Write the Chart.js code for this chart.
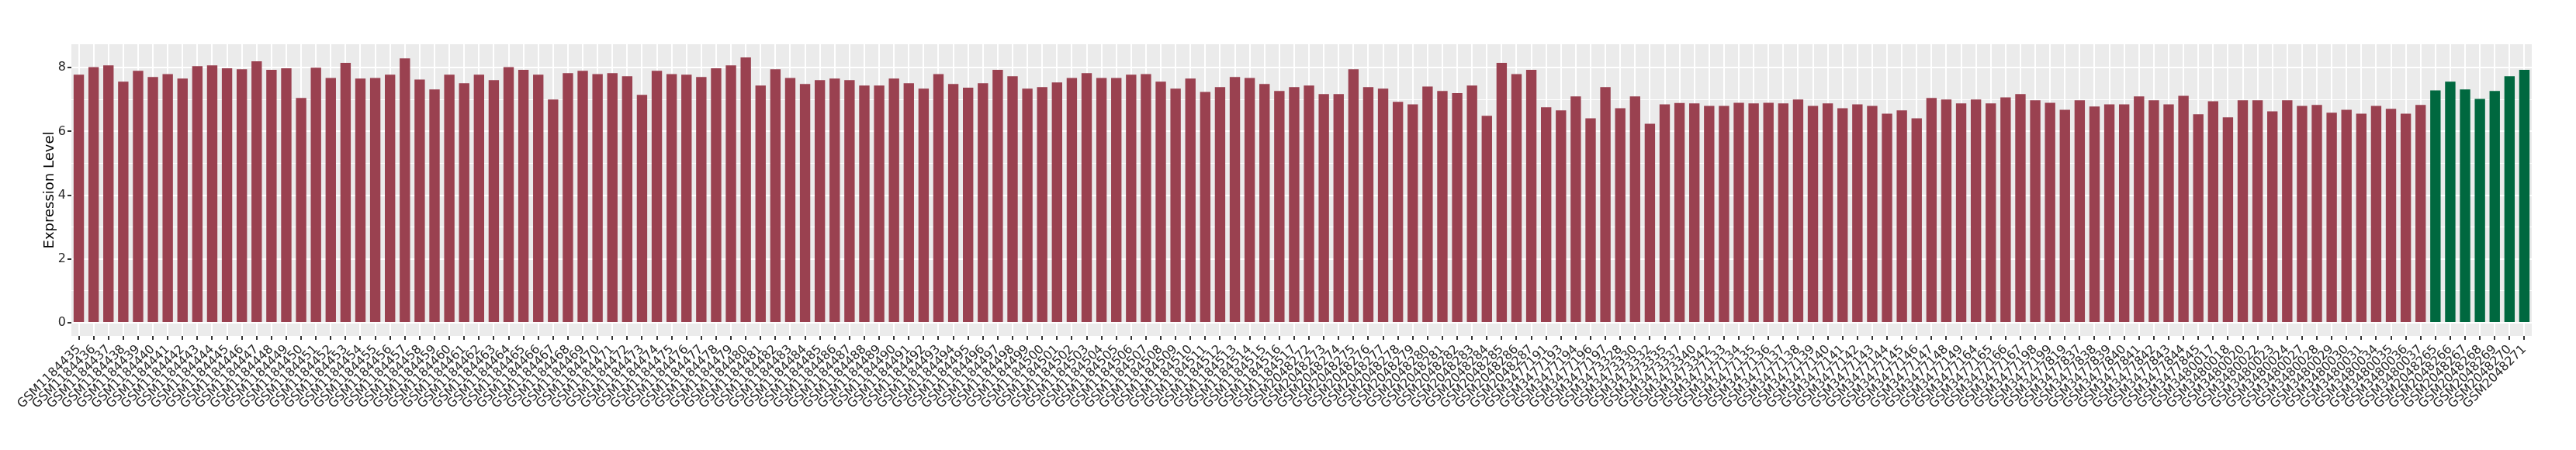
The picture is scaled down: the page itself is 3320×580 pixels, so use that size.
<!DOCTYPE html>
<html>
<head>
<meta charset="utf-8">
<script src="https://cdn.jsdelivr.net/npm/chart.js@4"></script>
<style>
  body { margin: 0; background: #fff; }
</style>
</head>
<body>
<canvas id="myChart" width="3320" height="580"></canvas>
<script>
(() => {
  'use strict'

  // sample names, in the order they appear along the x axis
  const tumorLabelsA = [
    'GSM1184435', 'GSM1184436', 'GSM1184437', 'GSM1184438', 'GSM1184439', 'GSM1184440', 'GSM1184441', 'GSM1184442',
    'GSM1184443', 'GSM1184444', 'GSM1184445', 'GSM1184446', 'GSM1184447', 'GSM1184448', 'GSM1184449', 'GSM1184450',
    'GSM1184451', 'GSM1184452', 'GSM1184453', 'GSM1184454', 'GSM1184455', 'GSM1184456', 'GSM1184457', 'GSM1184458',
    'GSM1184459', 'GSM1184460', 'GSM1184461', 'GSM1184462', 'GSM1184463', 'GSM1184464', 'GSM1184465', 'GSM1184466',
    'GSM1184467', 'GSM1184468', 'GSM1184469', 'GSM1184470', 'GSM1184471', 'GSM1184472', 'GSM1184473', 'GSM1184474',
    'GSM1184475', 'GSM1184476', 'GSM1184477', 'GSM1184478', 'GSM1184479', 'GSM1184480', 'GSM1184481', 'GSM1184482',
    'GSM1184483', 'GSM1184484', 'GSM1184485', 'GSM1184486', 'GSM1184487', 'GSM1184488', 'GSM1184489', 'GSM1184490',
    'GSM1184491', 'GSM1184492', 'GSM1184493', 'GSM1184494', 'GSM1184495', 'GSM1184496', 'GSM1184497', 'GSM1184498',
    'GSM1184499', 'GSM1184500', 'GSM1184501', 'GSM1184502', 'GSM1184503', 'GSM1184504', 'GSM1184505', 'GSM1184506',
    'GSM1184507', 'GSM1184508', 'GSM1184509', 'GSM1184510', 'GSM1184511', 'GSM1184512', 'GSM1184513', 'GSM1184514',
    'GSM1184515', 'GSM1184516', 'GSM1184517'
  ];
  const tumorLabelsB = [
    'GSM2048272', 'GSM2048273', 'GSM2048274', 'GSM2048275', 'GSM2048276', 'GSM2048277', 'GSM2048278', 'GSM2048279',
    'GSM2048280', 'GSM2048281', 'GSM2048282', 'GSM2048283', 'GSM2048284', 'GSM2048285', 'GSM2048286', 'GSM2048287'
  ];
  const tumorLabelsC = [
    'GSM3477191', 'GSM3477193', 'GSM3477194', 'GSM3477196', 'GSM3477197', 'GSM3473328', 'GSM3473330', 'GSM3473332',
    'GSM3473335', 'GSM3473337', 'GSM3473340', 'GSM3473342', 'GSM3477133', 'GSM3477134', 'GSM3477135', 'GSM3477136',
    'GSM3477137', 'GSM3477138', 'GSM3477139', 'GSM3477140', 'GSM3477141', 'GSM3477142', 'GSM3477143', 'GSM3477144',
    'GSM3477145', 'GSM3477146', 'GSM3477147', 'GSM3477148', 'GSM3477149', 'GSM3477164', 'GSM3477165', 'GSM3477166',
    'GSM3477167', 'GSM3477198', 'GSM3477199', 'GSM3477819', 'GSM3477837', 'GSM3477838', 'GSM3477839', 'GSM3477840',
    'GSM3477841', 'GSM3477842', 'GSM3477843', 'GSM3477844', 'GSM3477845', 'GSM3480017', 'GSM3480018', 'GSM3480020',
    'GSM3480022', 'GSM3480023', 'GSM3480024', 'GSM3480027', 'GSM3480028', 'GSM3480029', 'GSM3480030', 'GSM3480031',
    'GSM3480034', 'GSM3480035', 'GSM3480036', 'GSM3480037'
  ];
  const normalLabels = [
    'GSM2048265', 'GSM2048266', 'GSM2048267', 'GSM2048268', 'GSM2048269', 'GSM2048270', 'GSM2048271'
  ];

  // expression values
  const tumorValues = [
    7.78, 8.02, 8.07, 7.56, 7.90, 7.71, 7.80, 7.66, 8.05, 8.07,
    7.98, 7.95, 8.20, 7.93, 7.98, 7.05, 8.00, 7.68, 8.15, 7.66,
    7.68, 7.78, 8.29, 7.63, 7.32, 7.78, 7.51, 7.78, 7.61, 8.02,
    7.93, 7.78, 7.00, 7.83, 7.90, 7.80, 7.83, 7.73, 7.15, 7.90,
    7.80, 7.78, 7.71, 7.98, 8.07, 8.32, 7.44, 7.95, 7.68, 7.49,
    7.61, 7.66, 7.61, 7.44, 7.44,
    7.66, 7.51, 7.34, 7.80, 7.49, 7.37, 7.51, 7.93, 7.73, 7.34,
    7.39, 7.54, 7.68, 7.83, 7.68, 7.68, 7.78, 7.80, 7.56, 7.34,
    7.66, 7.24, 7.39, 7.71, 7.68, 7.49, 7.27, 7.39, 7.44, 7.17,
    7.17, 7.95, 7.39, 7.34, 6.93, 6.85, 7.41, 7.27, 7.20, 7.44,
    6.49, 8.15, 7.80, 7.93, 6.76, 6.66, 7.10, 6.41, 7.39, 6.73,
    7.10, 6.24, 6.85, 6.89, 6.88,
    6.80, 6.80, 6.90, 6.88, 6.90, 6.88, 7.00, 6.80, 6.88, 6.73,
    6.85, 6.80, 6.56, 6.66, 6.41, 7.05, 7.00, 6.88, 7.00, 6.88,
    7.07, 7.17, 6.98, 6.90, 6.68, 6.98, 6.78, 6.85, 6.85, 7.10,
    6.98, 6.85, 7.12, 6.54, 6.95, 6.44, 6.98, 6.98, 6.63, 6.98,
    6.80, 6.83, 6.59, 6.68, 6.56, 6.80, 6.71, 6.56, 6.83
  ];
  const normalValues = [7.29, 7.56, 7.32, 7.02, 7.27, 7.73, 7.93];

  const yTicks = [0, 2, 4, 6, 8];
  const yMinorTicks = [1, 3, 5, 7];

  const tumorColor = '#9A4150';
  const normalColor = '#00683F';

  const labels = [...tumorLabelsA, ...tumorLabelsB, ...tumorLabelsC, ...normalLabels];
  const values = [...tumorValues, ...normalValues];
  const colors = values.map((v, i) => i < tumorValues.length ? tumorColor : normalColor);

  // grey ggplot panel behind the grid
  const panelBackground = {
    id: 'panelBackground',
    beforeDraw(chart) {
      const {ctx, chartArea} = chart;
      ctx.save();
      ctx.fillStyle = '#EBEBEB';
      ctx.fillRect(chartArea.left, chartArea.top, chartArea.right - chartArea.left, chartArea.bottom - chartArea.top);
      ctx.restore();
    }
  };

  const yAll = [...yTicks, ...yMinorTicks].sort((a, b) => a - b);
  const isMajor = v => yTicks.includes(v);

  const ctx = document.getElementById('myChart');

  new Chart(ctx, {
    type: 'bar',
    data: {
      labels: labels,
      datasets: [{
        data: values,
        backgroundColor: colors,
        borderWidth: 0,
        barPercentage: 0.7,
        categoryPercentage: 1.0
      }]
    },
    plugins: [panelBackground],
    options: {
      responsive: false,
      animation: false,
      devicePixelRatio: 1,
      layout: {
        padding: {top: 57, right: 57, left: 0, bottom: 0}
      },
      plugins: {
        legend: {display: false},
        tooltip: {enabled: false}
      },
      scales: {
        x: {
          afterFit: scale => { scale.height = 147; },
          border: {display: false},
          grid: {
            offset: false,
            color: '#FFFFFF',
            lineWidth: 2,
            tickColor: '#333333',
            tickLength: 5
          },
          ticks: {
            autoSkip: false,
            minRotation: 45,
            maxRotation: 45,
            padding: 3,
            color: '#262626',
            font: {family: 'DejaVu Sans', size: 16}
          }
        },
        y: {
          min: -0.416,
          max: 8.736,
          afterFit: scale => { scale.width = 92; },
          afterBuildTicks: scale => {
            scale.ticks = yAll.map(v => ({value: v}));
          },
          border: {display: false},
          grid: {
            color: '#FFFFFF',
            lineWidth: c => isMajor(c.tick.value) ? 2 : 1,
            tickColor: c => isMajor(c.tick.value) ? '#333333' : 'rgba(0,0,0,0)',
            tickLength: 5
          },
          ticks: {
            padding: 2,
            color: '#262626',
            font: {family: 'DejaVu Sans', size: 16},
            callback: v => isMajor(v) ? v : ''
          },
          title: {
            display: true,
            text: 'Expression Level',
            color: '#000000',
            font: {family: 'DejaVu Sans', size: 18},
            padding: {top: 54, bottom: 0}
          }
        }
      }
    }
  });
})()
</script>
</body>
</html>
